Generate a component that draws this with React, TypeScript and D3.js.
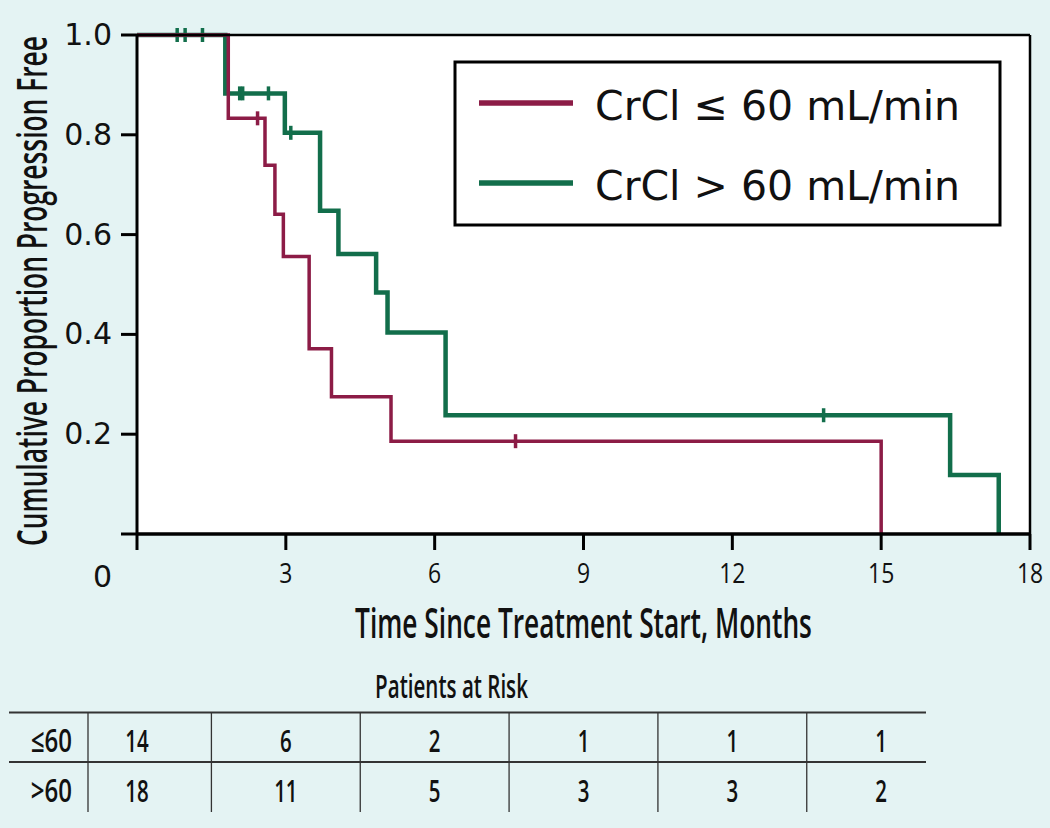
import React, { useLayoutEffect, useRef, useState } from "react";
import * as d3 from "d3";

// ---- data ----
const redTimes = [0, 1.84, 2.58, 2.78, 2.95, 3.47, 3.92, 5.12, 15.0];
const redSurv = [1, 0.833, 0.739, 0.641, 0.556, 0.371, 0.275, 0.186, 0];
const redCensor = [2.43, 7.63];

const greenTimes = [0, 1.78, 2.98, 3.69, 4.06, 4.82, 5.05, 6.22, 16.39, 17.37];
const greenSurv = [1, 0.883, 0.804, 0.648, 0.561, 0.484, 0.404, 0.238, 0.118, 0];
const greenCensor = [0.81, 0.97, 1.32, 2.07, 2.13, 2.65, 3.1, 13.84];

const xTicks = [0, 3, 6, 9, 12, 15, 18];
const yTicks = [0, 0.2, 0.4, 0.6, 0.8, 1.0];

const legendLabels = ["CrCl \u2264 60 mL/min", "CrCl > 60 mL/min"];
const riskRowLabels = ["\u226460", ">60"];
const riskTimes = [0, 3, 6, 9, 12, 15];
const riskLow = [14, 6, 2, 1, 1, 1];
const riskHigh = [18, 11, 5, 3, 3, 2];

const RED = "#8C1C46";
const GREEN = "#126E4B";
const BG = "#E4F3F3";
const WIDE = "'DejaVu Sans', sans-serif";
const COND = "'Open Sans', sans-serif";

function survAt(times: number[], surv: number[], t: number) {
  let s = surv[0];
  for (let i = 0; i < times.length; i++) if (times[i] <= t) s = surv[i];
  return s;
}

type FitProps = {
  x: number;
  y: number;
  width: number;
  rotate?: number;
  size: number;
  weight?: number;
  family?: string;
  children: string;
};

function FitText({ x, y, width, rotate = 0, size, weight = 600, family = COND, children }: FitProps) {
  const ref = useRef<SVGTextElement>(null);
  const [s, setS] = useState(0.7);
  useLayoutEffect(() => {
    if (ref.current) {
      const w = ref.current.getBBox().width;
      if (w > 0) setS(width / w);
    }
  }, [width, children]);
  return (
    <text
      ref={ref}
      transform={`translate(${x},${y}) rotate(${rotate}) scale(${s},1)`}
      textAnchor="middle"
      fontFamily={family}
      fontSize={size}
      fontWeight={weight}
      fill="#111"
    >
      {children}
    </text>
  );
}

export default function App() {
  const W = 1050, H = 828;
  const x = d3.scaleLinear().domain([0, 18]).range([137, 1030]);
  const y = d3.scaleLinear().domain([0, 1]).range([534, 35]);

  const line = d3
    .line<[number, number]>()
    .x((d) => x(d[0]))
    .y((d) => y(d[1]))
    .curve(d3.curveStepAfter);

  const redPts = redTimes.map((t, i) => [t, redSurv[i]] as [number, number]);
  const greenPts = greenTimes.map((t, i) => [t, greenSurv[i]] as [number, number]);

  const series = [
    { pts: greenPts, times: greenTimes, surv: greenSurv, cens: greenCensor, color: GREEN, w: 4.5 },
    { pts: redPts, times: redTimes, surv: redSurv, cens: redCensor, color: RED, w: 3.5 },
  ];

  const riskRows = [riskLow, riskHigh];
  const rowBase = [752, 802];
  const vLines = [88, ...riskTimes.slice(1).map((t, i) => (x(t) + x(riskTimes[i])) / 2)];

  const condText = (
    key: string | number,
    tx: number,
    ty: number,
    txt: string,
    size: number,
    weight: number,
    sx: number,
    anchor: string = "middle"
  ) => (
    <text
      key={key}
      transform={`translate(${tx},${ty}) scale(${sx},1)`}
      textAnchor={anchor}
      fontFamily={COND}
      fontSize={size}
      fontWeight={weight}
      fill="#111"
    >
      {txt}
    </text>
  );

  return (
    <svg
      width={W}
      height={H}
      style={{ position: "absolute", left: 0, top: 0, display: "block" }}
    >
      <rect x={0} y={0} width={W} height={H} fill={BG} />
      <rect x={x(0)} y={y(1)} width={x(18) - x(0)} height={y(0) - y(1)} fill="#fff" />

      {/* curves */}
      {series.map((s, i) => (
        <g key={i}>
          <path d={line(s.pts) || ""} fill="none" stroke={s.color} strokeWidth={s.w} strokeLinejoin="miter" />
          {s.cens.map((t, j) => {
            const cy = y(survAt(s.times, s.surv, t));
            return (
              <line key={j} x1={x(t)} x2={x(t)} y1={cy - 7} y2={cy + 7} stroke={s.color} strokeWidth={3.5} />
            );
          })}
        </g>
      ))}

      {/* frame */}
      <line x1={x(0)} x2={x(18)} y1={y(1)} y2={y(1)} stroke="#000" strokeWidth={2.5} />
      <line x1={x(18)} x2={x(18)} y1={y(1)} y2={y(0)} stroke="#000" strokeWidth={2.5} />
      {/* axes */}
      <line x1={x(0)} x2={x(18)} y1={y(0)} y2={y(0)} stroke="#000" strokeWidth={3.5} />
      <line x1={x(0)} x2={x(0)} y1={y(1) - 1} y2={y(0)} stroke="#000" strokeWidth={3} />
      {yTicks.map((v) => (
        <line key={"yt" + v} x1={x(0) - 16} x2={x(0)} y1={y(v)} y2={y(v)} stroke="#000" strokeWidth={3} />
      ))}
      {xTicks.map((v) => (
        <line key={"xt" + v} x1={x(v)} x2={x(v)} y1={y(0)} y2={y(0) + 16} stroke="#000" strokeWidth={3} />
      ))}

      {/* y tick labels */}
      {yTicks.map((v) => (
        <text
          key={"yl" + v}
          x={112}
          y={v === 0 ? 587 : y(v) + 10}
          textAnchor="end"
          fontFamily={WIDE}
          fontSize={30}
          fill="#111"
        >
          {v === 0 ? "0" : d3.format(".1f")(v)}
        </text>
      ))}
      {/* x tick labels */}
      {xTicks.slice(1).map((v) => condText("xl" + v, x(v), 583, String(v), 27, 400, 0.85))}

      {/* axis titles */}
      <FitText x={(355 + 812) / 2} y={638} width={457} size={42}>
        Time Since Treatment Start, Months
      </FitText>
      <FitText x={47} y={(36 + 546) / 2} width={510} rotate={-90} size={42}>
        Cumulative Proportion Progression Free
      </FitText>

      {/* legend */}
      <rect x={455} y={62} width={545} height={163} fill="#fff" stroke="#000" strokeWidth={3} />
      {[RED, GREEN].map((c, i) => (
        <g key={"lg" + i}>
          <line x1={479} x2={573} y1={103 + i * 80} y2={103 + i * 80} stroke={c} strokeWidth={5.5} />
          <text x={595} y={120 + i * 80} fontFamily={WIDE} fontSize={41} fill="#111">
            {legendLabels[i]}
          </text>
        </g>
      ))}

      {/* risk table */}
      <FitText x={(375 + 528) / 2} y={698} width={153} size={32}>
        Patients at Risk
      </FitText>
      <line x1={9} x2={926} y1={712.5} y2={712.5} stroke="#333" strokeWidth={2} />
      <line x1={9} x2={926} y1={762} y2={762} stroke="#333" strokeWidth={2} />
      {vLines.map((vx, i) => (
        <line key={"vl" + i} x1={vx} x2={vx} y1={712} y2={812} stroke="#333" strokeWidth={1.3} />
      ))}
      {riskRowLabels.map((l, r) => condText("rl" + r, 72, rowBase[r], l, 32, 600, 0.75, "end"))}
      {riskRows.map((row, r) =>
        row.map((v, i) => condText(`rv${r}-${i}`, x(riskTimes[i]), rowBase[r], String(v), 31, 600, 0.66))
      )}
    </svg>
  );
}
